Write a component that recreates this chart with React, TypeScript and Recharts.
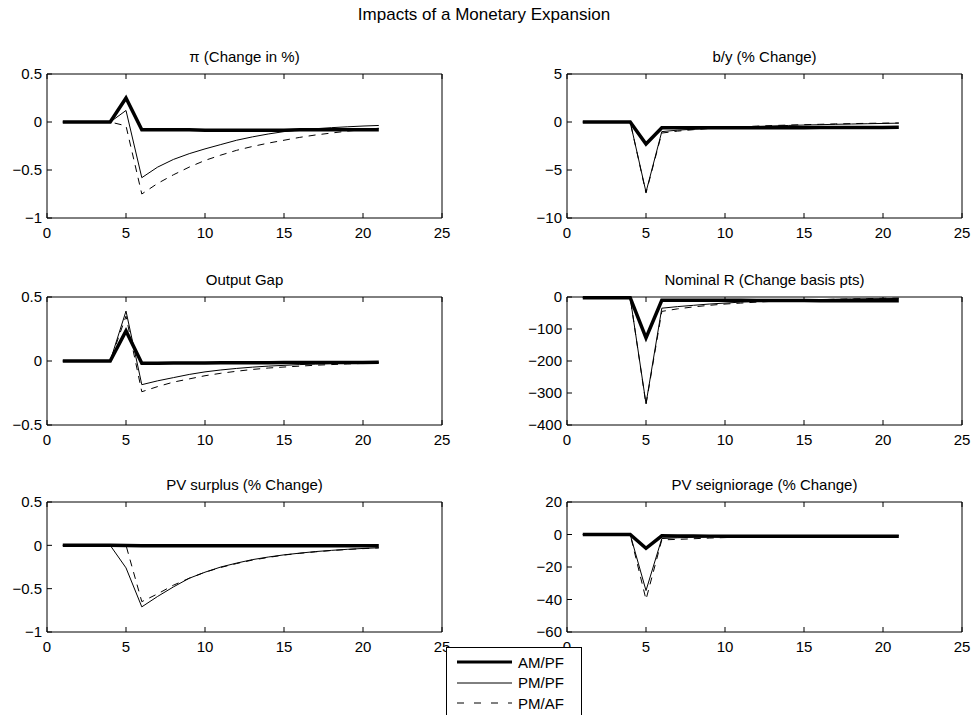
import React from "react";
import { Line, LineChart, XAxis, YAxis } from "recharts";

const FONT = "'Liberation Sans', Arial, Helvetica, sans-serif";

const periods = [1, 2, 3, 4, 5, 6, 7, 8, 9, 10, 11, 12, 13, 14, 15, 16, 17, 18, 19, 20, 21];
const xTicks = [0, 5, 10, 15, 20, 25];
const seriesNames = ["AM/PF", "PM/PF", "PM/AF"];

// inflation
const piAmPf = [0, 0, 0, 0, 0.25, -0.08, -0.08, -0.08, -0.08, -0.085, -0.085, -0.085, -0.085, -0.085, -0.085, -0.08, -0.08, -0.08, -0.08, -0.08, -0.08];
const piPmPf = [0, 0, 0, 0, 0.12, -0.58, -0.47, -0.39, -0.33, -0.28, -0.235, -0.19, -0.155, -0.125, -0.1, -0.083, -0.07, -0.059, -0.05, -0.042, -0.036];
const piPmAf = [0, 0, 0, 0, -0.04, -0.75, -0.64, -0.55, -0.47, -0.4, -0.345, -0.295, -0.255, -0.22, -0.19, -0.16, -0.135, -0.115, -0.095, -0.08, -0.065];

// debt / output
const byAmPf = [0, 0, 0, 0, -2.3, -0.6, -0.6, -0.6, -0.6, -0.6, -0.6, -0.6, -0.6, -0.6, -0.6, -0.58, -0.58, -0.57, -0.57, -0.56, -0.55];
const byPmPf = [0, 0, 0, 0, -7.3, -1.0, -0.85, -0.75, -0.66, -0.58, -0.52, -0.46, -0.41, -0.36, -0.32, -0.28, -0.24, -0.21, -0.18, -0.15, -0.12];
const byPmAf = [0, 0, 0, 0, -7.4, -1.15, -0.95, -0.8, -0.68, -0.58, -0.5, -0.43, -0.37, -0.32, -0.28, -0.24, -0.2, -0.17, -0.14, -0.12, -0.1];

// output gap
const gapAmPf = [0, 0, 0, 0, 0.235, -0.018, -0.017, -0.016, -0.015, -0.015, -0.014, -0.014, -0.013, -0.013, -0.012, -0.012, -0.012, -0.011, -0.011, -0.011, -0.01];
const gapPmPf = [0, 0, 0, 0, 0.39, -0.185, -0.155, -0.13, -0.105, -0.085, -0.07, -0.058, -0.048, -0.04, -0.034, -0.028, -0.024, -0.02, -0.017, -0.014, -0.012];
const gapPmAf = [0, 0, 0, 0, 0.35, -0.24, -0.2, -0.165, -0.14, -0.115, -0.096, -0.08, -0.066, -0.055, -0.047, -0.04, -0.033, -0.028, -0.023, -0.019, -0.016];

// nominal rate, basis points
const rAmPf = [-2, -2, -2, -2, -128, -10, -10, -10, -10, -10.5, -10.5, -11, -11, -11, -11, -11.5, -11.5, -11.5, -12, -12, -12];
const rPmPf = [-2, -2, -2, -2, -333, -35, -30, -26, -22, -19, -16, -14, -12, -10.5, -9, -8, -7, -6, -5.5, -5, -4.5];
const rPmAf = [-2, -2, -2, -2, -336, -45, -37, -31, -26, -22, -19, -16, -13.5, -11.5, -10, -8.5, -7, -6, -5, -4, -3.5];

// PV surplus
const surAmPf = [0, 0, 0, 0, -0.002, -0.004, -0.005, -0.005, -0.006, -0.006, -0.006, -0.006, -0.006, -0.006, -0.006, -0.006, -0.006, -0.006, -0.006, -0.006, -0.006];
const surPmPf = [0, 0, 0, 0, -0.26, -0.71, -0.59, -0.48, -0.38, -0.31, -0.25, -0.205, -0.165, -0.135, -0.11, -0.09, -0.072, -0.058, -0.046, -0.036, -0.028];
const surPmAf = [0, 0, 0, 0, 0, -0.65, -0.56, -0.46, -0.38, -0.31, -0.255, -0.21, -0.17, -0.14, -0.112, -0.092, -0.075, -0.06, -0.048, -0.038, -0.03];

// PV seigniorage
const seiAmPf = [0, 0, 0, 0, -8.5, -0.8, -0.9, -0.9, -1, -1, -1, -1, -1, -1, -1, -1, -1, -1, -1, -1, -1];
const seiPmPf = [0, 0, 0, 0, -34.5, -2.5, -2, -1.7, -1.5, -1.3, -1.2, -1.1, -1, -1, -0.9, -0.9, -0.8, -0.8, -0.8, -0.7, -0.7];
const seiPmAf = [0, 0, 0, 0, -40, -3.3, -3, -2.6, -2.2, -1.9, -1.6, -1.4, -1.2, -1.1, -1, -0.9, -0.85, -0.8, -0.75, -0.7, -0.65];

const panels = [
  { title: "\u03c0 (Change in %)", yTicks: [-1, -0.5, 0, 0.5], series: [piAmPf, piPmPf, piPmAf] },
  { title: "b/y (% Change)", yTicks: [-10, -5, 0, 5], series: [byAmPf, byPmPf, byPmAf] },
  { title: "Output Gap", yTicks: [-0.5, 0, 0.5], series: [gapAmPf, gapPmPf, gapPmAf] },
  { title: "Nominal R (Change basis pts)", yTicks: [-400, -300, -200, -100, 0], series: [rAmPf, rPmPf, rPmAf] },
  { title: "PV surplus (% Change)", yTicks: [-1, -0.5, 0, 0.5], series: [surAmPf, surPmPf, surPmAf] },
  { title: "PV seigniorage (% Change)", yTicks: [-60, -40, -20, 0, 20], series: [seiAmPf, seiPmPf, seiPmAf] }
];

// plot boxes (x0, y0, x1, y1) in page pixels
const cols = [[47, 442], [567, 962]];
const rows = [[74, 218], [297, 425], [502, 632]];

const lineStyles = [
  { strokeWidth: 3.5, dash: undefined },
  { strokeWidth: 1, dash: undefined },
  { strokeWidth: 1, dash: "7 6" }
];

const fmt = (v: number) => (v < 0 ? "\u2212" + Math.abs(v) : String(v));
const blank = () => "";
const tickStyle = { fill: "#000", fontSize: 15, fontFamily: FONT };

function Panel({ index }: { index: number }) {
  const p = panels[index];
  const [x0, x1] = cols[index % 2];
  const [y0, y1] = rows[Math.floor(index / 2)];
  // axes take 1px each, so the margins are 1px short of the padding
  const pad = { top: 10, right: 10, bottom: 30, left: 50 };
  const m = { top: pad.top - 1, right: pad.right - 1, bottom: pad.bottom - 1, left: pad.left - 1 };
  const w = x1 - x0 + pad.left + pad.right;
  const h = y1 - y0 + pad.top + pad.bottom;
  const data = periods.map((t, i) => ({ t, s0: p.series[0][i], s1: p.series[1][i], s2: p.series[2][i] }));
  const domain = [p.yTicks[0], p.yTicks[p.yTicks.length - 1]];

  return (
    <>
      <div
        style={{
          position: "absolute",
          left: x0,
          width: x1 - x0,
          top: y0 - 26,
          lineHeight: "18px",
          textAlign: "center",
          fontSize: 15,
          fontFamily: FONT
        }}
      >
        {p.title}
      </div>
      <div style={{ position: "absolute", left: x0 - pad.left, top: y0 - pad.top }}>
        <LineChart width={w} height={h} data={data} margin={m}>
          <XAxis
            xAxisId="b"
            dataKey="t"
            type="number"
            domain={[0, 25]}
            ticks={xTicks}
            height={1}
            tickSize={-5}
            tickMargin={14}
            tick={tickStyle}
            stroke="#000"
            interval={0}
          />
          <XAxis
            xAxisId="t"
            orientation="top"
            dataKey="t"
            type="number"
            domain={[0, 25]}
            ticks={xTicks}
            height={1}
            tickSize={-5}
            tickFormatter={blank}
            stroke="#000"
            interval={0}
          />
          <YAxis
            yAxisId="l"
            type="number"
            domain={domain}
            ticks={p.yTicks}
            width={1}
            tickSize={-5}
            tickMargin={10}
            tickFormatter={fmt}
            tick={tickStyle}
            stroke="#000"
            interval={0}
          />
          <YAxis
            yAxisId="r"
            orientation="right"
            type="number"
            domain={domain}
            ticks={p.yTicks}
            width={1}
            tickSize={-5}
            tickFormatter={blank}
            stroke="#000"
            interval={0}
          />
          {[1, 2, 0].map((k) => (
            <Line
              key={k}
              xAxisId="b"
              yAxisId="l"
              dataKey={"s" + k}
              type="linear"
              stroke="#000"
              strokeWidth={lineStyles[k].strokeWidth}
              strokeDasharray={lineStyles[k].dash}
              dot={false}
              activeDot={false}
              isAnimationActive={false}
            />
          ))}
        </LineChart>
      </div>
    </>
  );
}

export default function App() {
  return (
    <div
      style={{
        position: "absolute",
        left: 0,
        top: 0,
        width: 974,
        height: 715,
        overflow: "hidden",
        background: "#fff",
        fontFamily: FONT,
        color: "#000"
      }}
    >
      <div
        style={{
          position: "absolute",
          left: 0,
          width: 968,
          top: 5,
          lineHeight: "20px",
          textAlign: "center",
          fontSize: 17
        }}
      >
        Impacts of a Monetary Expansion
      </div>
      {panels.map((_, i) => (
        <Panel key={i} index={i} />
      ))}
      <div
        style={{
          position: "absolute",
          left: 446,
          top: 647,
          width: 134,
          height: 80,
          border: "1px solid #000",
          background: "#fff",
          zIndex: 5
        }}
      >
        {seriesNames.map((name, k) => (
          <div
            key={name}
            style={{
              position: "absolute",
              left: 10,
              top: 4 + k * 20.5,
              height: 20,
              display: "flex",
              alignItems: "center",
              fontSize: 15
            }}
          >
            <svg width={56} height={20} style={{ display: "block" }}>
              <line
                x1={0}
                x2={55}
                y1={10}
                y2={10}
                stroke="#000"
                strokeWidth={k === 0 ? 3 : 1}
                strokeDasharray={lineStyles[k].dash ? "7 10" : undefined}
              />
            </svg>
            <span style={{ marginLeft: 5 }}>{name}</span>
          </div>
        ))}
      </div>
    </div>
  );
}
